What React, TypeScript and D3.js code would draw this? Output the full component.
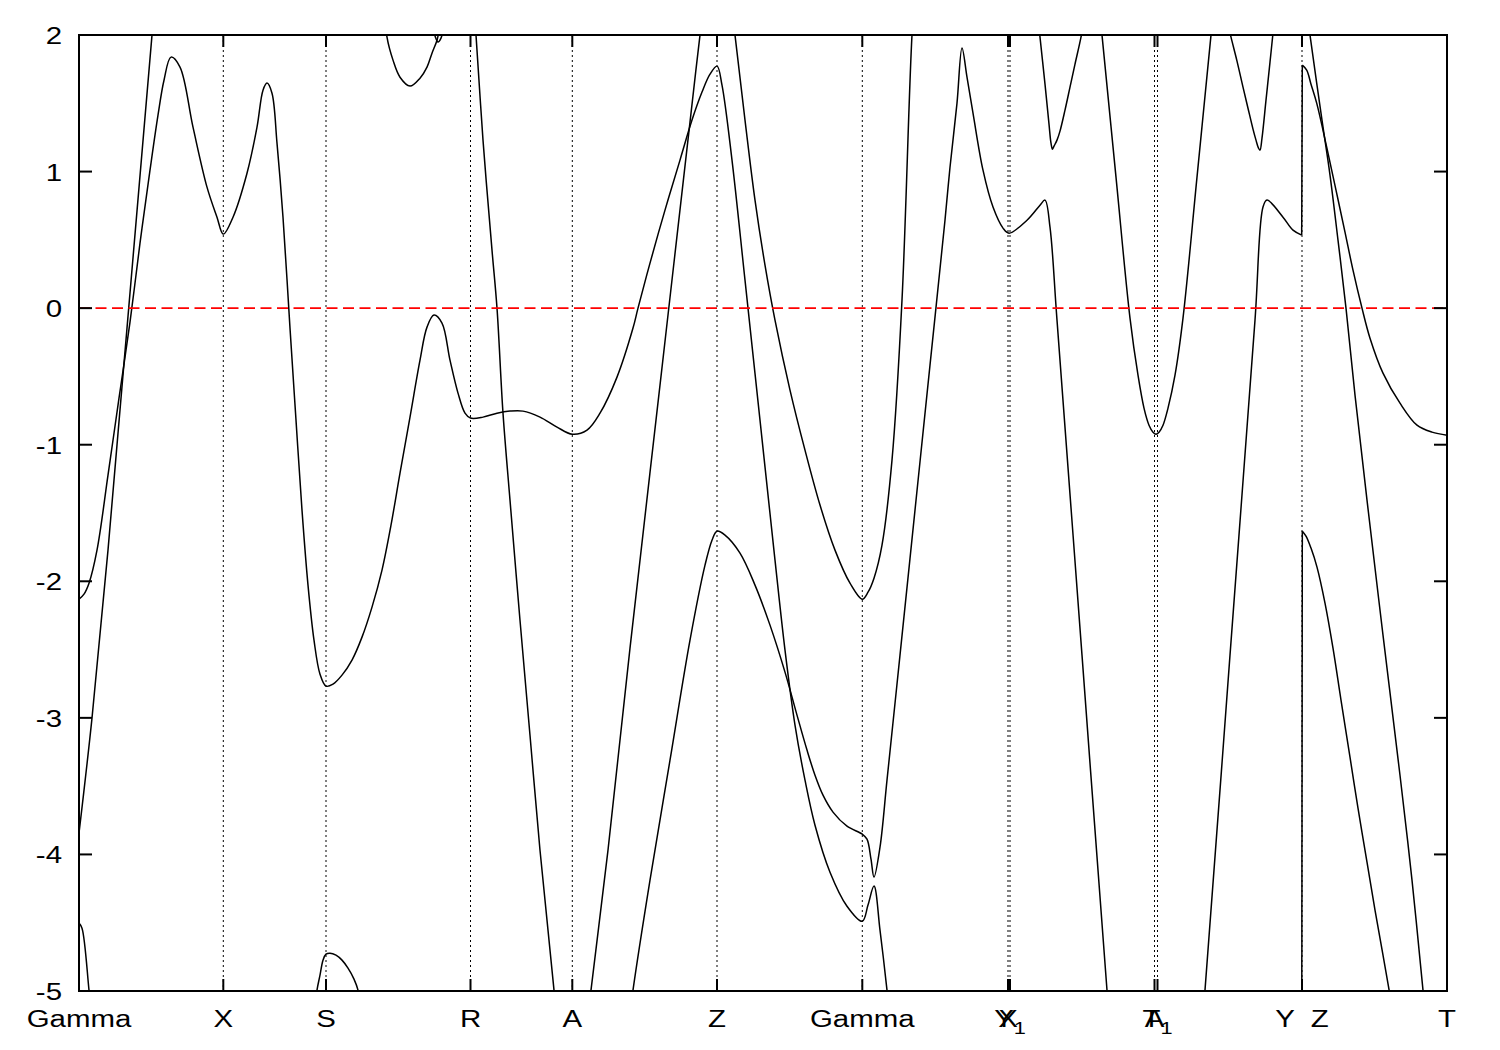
import React from 'react';
import * as d3 from 'd3';

// k-path ticks (k in path-length units)
const kTicks = [
  { k: 0, label: 'Gamma', sub: '' },
  { k: 1.443, label: 'X', sub: '' },
  { k: 2.47, label: 'S', sub: '' },
  { k: 3.915, label: 'R', sub: '' },
  { k: 4.933, label: 'A', sub: '' },
  { k: 6.38, label: 'Z', sub: '' },
  { k: 7.833, label: 'Gamma', sub: '' },
  { k: 9.29, label: 'X', sub: '' },
  { k: 9.31, label: 'Y', sub: '1' },
  { k: 10.755, label: 'A', sub: '' },
  { k: 10.785, label: 'T', sub: '1' },
  { k: 12.23, label: 'Y  Z', sub: '' },
  { k: 13.68, label: 'T', sub: '' },
];
const kMax = 13.68;
const eTicks = [-5, -4, -3, -2, -1, 0, 1, 2];
const eMin = -5;
const eMax = 2;
const fermi = 0;

// bands: [k, E(eV)]
const band1: [number, number][] = [
  [0, -2.131], [0.05, -2.094], [0.1, -2.014], [0.18, -1.772], [0.29, -1.223], [0.4, -0.659],
  [0.51, -0.103], [0.61, 0.476], [0.71, 1.01], [0.79, 1.413], [0.85, 1.669], [0.92, 1.838],
  [1.01, 1.765], [1.14, 1.325], [1.28, 0.886], [1.38, 0.666], [1.443, 0.542], [1.54, 0.666],
  [1.68, 0.988], [1.78, 1.325], [1.84, 1.596], [1.88, 1.648], [1.93, 1.574], [1.98, 1.208],
  [2.04, 0.666], [2.11, -0.146], [2.17, -0.82], [2.23, -1.479], [2.29, -2.028], [2.35, -2.431],
  [2.41, -2.68], [2.47, -2.768], [2.54, -2.753], [2.63, -2.687], [2.73, -2.577], [2.83, -2.409],
  [2.93, -2.189], [3.03, -1.918], [3.12, -1.589], [3.21, -1.208], [3.31, -0.798], [3.41, -0.381],
  [3.48, -0.139], [3.55, -0.051], [3.63, -0.11], [3.71, -0.381], [3.79, -0.622], [3.86, -0.769],
  [3.915, -0.805], [4.04, -0.798], [4.18, -0.769], [4.31, -0.754], [4.44, -0.754], [4.61, -0.798],
  [4.78, -0.871], [4.933, -0.923], [5.08, -0.893], [5.21, -0.769], [5.38, -0.505], [5.54, -0.146],
  [5.59, 0], [5.71, 0.33], [5.86, 0.718], [6.01, 1.084], [6.13, 1.377], [6.23, 1.582],
  [6.31, 1.713], [6.38, 1.772], [6.43, 1.633], [6.53, 1.084], [6.66, 0.205], [6.81, -0.82],
  [6.96, -1.845], [7.06, -2.504], [7.16, -3.053], [7.26, -3.456], [7.36, -3.786], [7.51, -4.13],
  [7.68, -4.379], [7.833, -4.489], [7.89, -4.371], [7.95, -4.232], [8.01, -4.554], [8.08, -4.994],
  [8.11, -5.213], [10.21, -7.26], [12.227, -5.8], [12.233, -1.633], [12.27, -1.669], [12.32, -1.757],
  [12.38, -1.896], [12.46, -2.16], [12.54, -2.49], [12.62, -2.87], [12.71, -3.288], [12.79, -3.661],
  [12.88, -4.057], [12.96, -4.408], [13.04, -4.737], [13.11, -5.031], [13.68, -7.0],
];

const band2: [number, number][] = [
  [0, -3.844], [0.13, -3.002], [0.29, -1.772], [0.48, -0.146], [0.73, 1.999], [0.77, 2.343],
  [1.71, 4.45], [3.05, 2.255], [3.08, 1.984], [3.14, 1.816], [3.21, 1.691], [3.31, 1.626],
  [3.41, 1.684], [3.48, 1.765], [3.53, 1.867], [3.58, 1.962], [3.61, 2.072], [3.76, 2.99],
  [3.93, 2.328], [3.97, 1.999], [4.04, 1.23], [4.13, 0.425], [4.18, 0], [4.24, -0.769],
  [4.31, -1.406], [4.41, -2.285], [4.51, -3.127], [4.61, -3.969], [4.75, -4.994], [4.93, -6.24],
  [5.12, -4.994], [5.29, -3.969], [5.51, -2.49], [5.81, -0.564], [6.11, 1.362], [6.21, 1.999],
  [6.38, 2.99], [6.56, 1.999], [6.66, 1.377], [6.76, 0.791], [6.86, 0.315], [6.96, -0.088],
  [7.11, -0.6], [7.26, -1.04], [7.41, -1.442], [7.56, -1.772], [7.71, -2.014], [7.833, -2.131],
  [7.89, -2.08], [7.95, -1.977], [8.03, -1.735], [8.13, -1.113], [8.23, 0.059], [8.33, 1.999],
  [8.37, 2.4], [9.0, 3.5], [9.57, 2.263], [9.61, 1.984], [9.66, 1.64], [9.7, 1.347],
  [9.72, 1.208], [9.735, 1.164], [9.75, 1.186], [9.78, 1.23], [9.81, 1.296], [9.86, 1.45],
  [9.91, 1.618], [9.96, 1.787], [10.02, 1.984], [10.06, 2.153], [10.12, 2.6], [10.19, 2.292],
  [10.23, 1.999], [10.37, 0.959], [10.51, -0.073], [10.59, -0.491], [10.65, -0.732], [10.7, -0.857],
  [10.74, -0.908], [10.77, -0.923], [10.8, -0.908], [10.84, -0.857], [10.89, -0.732], [10.96, -0.491],
  [11.04, -0.073], [11.18, 0.959], [11.32, 1.999], [11.36, 2.292], [11.42, 2.6], [11.48, 2.109],
  [11.52, 1.984], [11.58, 1.809], [11.64, 1.618], [11.69, 1.464], [11.74, 1.311], [11.77, 1.23],
  [11.795, 1.172], [11.81, 1.157], [11.83, 1.245], [11.87, 1.523], [11.91, 1.801], [11.94, 2.014],
  [11.97, 2.219], [12.1, 3.2], [12.28, 2.182], [12.31, 1.999], [12.43, 1.377], [12.51, 0.974],
  [12.59, 0.498], [12.67, 0], [12.76, -0.637], [12.88, -1.406], [13.04, -2.394], [13.21, -3.42],
  [13.33, -4.188], [13.44, -4.994], [13.46, -5.14], [13.68, -6.5],
];

const band3: [number, number][] = [
  [0, -4.503], [0.03, -4.54], [0.1, -4.994], [0.13, -5.213], [1.21, -7.26], [2.35, -5.213],
  [2.38, -4.994], [2.41, -4.884], [2.44, -4.774], [2.47, -4.73], [2.51, -4.723], [2.57, -4.738],
  [2.63, -4.774], [2.69, -4.833], [2.75, -4.913], [2.79, -4.994], [2.82, -5.14], [4.01, -7.26],
  [5.49, -5.287], [5.54, -4.994], [5.71, -4.188], [5.91, -3.31], [6.11, -2.431], [6.26, -1.882],
  [6.33, -1.699], [6.38, -1.633], [6.46, -1.662], [6.61, -1.794], [6.76, -2.028], [6.91, -2.321],
  [7.06, -2.665], [7.18, -2.98], [7.28, -3.236], [7.36, -3.42], [7.44, -3.566], [7.54, -3.69],
  [7.68, -3.793], [7.833, -3.852], [7.88, -3.888], [7.92, -4.035], [7.95, -4.166], [8.01, -3.947],
  [8.08, -3.456], [8.21, -2.541], [8.36, -1.479], [8.51, -0.417], [8.66, 0.644], [8.71, 1.032],
  [8.78, 1.501], [8.83, 1.904], [8.88, 1.691], [8.94, 1.428], [9.04, 1.01], [9.14, 0.74],
  [9.24, 0.586], [9.3, 0.549], [9.48, 0.644], [9.61, 0.754], [9.66, 0.791], [9.71, 0.593],
  [9.78, -0.088], [10.03, -2.541], [10.28, -4.994], [10.41, -6.165], [10.77, -7.0], [11.13, -6.165],
  [11.26, -4.994], [11.51, -2.541], [11.76, -0.088], [11.84, 0.74], [11.88, 0.791], [12.04, 0.666],
  [12.14, 0.571], [12.227, 0.535], [12.233, 1.779], [12.277, 1.743], [12.32, 1.64], [12.377, 1.501],
  [12.477, 1.179], [12.57, 0.864], [12.66, 0.557], [12.74, 0.278], [12.83, 0], [12.91, -0.22],
  [13.04, -0.476], [13.21, -0.696], [13.38, -0.857], [13.53, -0.908], [13.68, -0.93],
];

// small band just touching the top edge near R
const band4: [number, number][] = [
  [3.53, 2.072], [3.56, 1.992], [3.59, 1.948], [3.62, 1.977], [3.64, 2.036],
];

const bands = [band1, band2, band3, band4];

const W = 1500;
const H = 1050;
const L = 79;
const R = 1447;
const T = 35;
const B = 991;

const FONT = "'Liberation Sans', Arial, Helvetica, sans-serif";
const SX = 1.28;

type Pt = [number, number];

// split a band into smooth runs and straight jump segments; drop runs fully outside the window
function splitBand(band: Pt[]) {
  const out = (e: number) => e < eMin || e > eMax;
  const smooth: Pt[][] = [];
  const straight: Pt[][] = [];
  let cur: Pt[] = [];
  const flush = () => {
    if (cur.length > 1) smooth.push(cur);
    cur = [];
  };
  for (let i = 0; i < band.length - 1; i++) {
    const a = band[i];
    const b = band[i + 1];
    if (out(a[1]) && out(b[1])) {
      flush();
      continue;
    }
    if (b[0] - a[0] < 0.01) {
      flush();
      straight.push([a, b]);
      continue;
    }
    if (cur.length === 0) cur.push(a);
    cur.push(b);
  }
  flush();
  return { smooth, straight };
}

export default function App() {
  const x = d3.scaleLinear().domain([0, kMax]).range([L, R]);
  const y = d3.scaleLinear().domain([eMin, eMax]).range([B, T]);
  const smoothLine = d3
    .line<Pt>()
    .x((d) => x(d[0]))
    .y((d) => y(d[1]))
    .curve(d3.curveCatmullRom.alpha(0.5));
  const straightLine = d3
    .line<Pt>()
    .x((d) => x(d[0]))
    .y((d) => y(d[1]));

  const paths: { d: string; key: string }[] = [];
  bands.forEach((b, bi) => {
    const { smooth, straight } = splitBand(b);
    smooth.forEach((s, si) => paths.push({ d: smoothLine(s) || '', key: `s${bi}-${si}` }));
    straight.forEach((s, si) => paths.push({ d: straightLine(s) || '', key: `j${bi}-${si}` }));
  });

  return (
    <svg
      width={W}
      height={H}
      style={{ position: 'absolute', left: 0, top: 0, background: '#fff' }}
      fontFamily={FONT}
    >
      <rect x={0} y={0} width={W} height={H} fill="#fff" />
      <defs>
        <clipPath id="plotclip">
          <rect x={L} y={T} width={R - L} height={B - T} />
        </clipPath>
      </defs>

      {/* high-symmetry vertical dotted lines */}
      {kTicks
        .filter((t) => t.k > 0 && t.k < kMax)
        .map((t, i) => (
          <line
            key={'v' + i}
            x1={x(t.k)}
            x2={x(t.k)}
            y1={T}
            y2={B}
            stroke="#000"
            strokeWidth={1}
            strokeDasharray="2,3"
          />
        ))}

      <g clipPath="url(#plotclip)">
        {paths.map((p) => (
          <path key={p.key} d={p.d} fill="none" stroke="#000" strokeWidth={1.5} strokeLinejoin="round" />
        ))}
      </g>

      {/* Fermi level */}
      <line
        x1={L}
        x2={R}
        y1={y(fermi)}
        y2={y(fermi)}
        stroke="#ff0000"
        strokeWidth={1.6}
        strokeDasharray="11,5.5"
      />

      {/* frame */}
      <rect x={L} y={T} width={R - L} height={B - T} fill="none" stroke="#000" strokeWidth={2} />

      {/* y ticks */}
      {eTicks.map((e) => (
        <g key={'y' + e}>
          <line x1={L} x2={L + 13} y1={y(e)} y2={y(e)} stroke="#000" strokeWidth={2} />
          <line x1={R} x2={R - 13} y1={y(e)} y2={y(e)} stroke="#000" strokeWidth={2} />
          <text
            transform={`translate(62,${y(e) + 9}) scale(${SX},1)`}
            textAnchor="end"
            fontSize={23}
            fill="#000"
          >
            {e}
          </text>
        </g>
      ))}

      {/* x ticks */}
      {kTicks.map((t, i) => (
        <g key={'x' + i}>
          <line x1={x(t.k)} x2={x(t.k)} y1={B} y2={B - 12} stroke="#000" strokeWidth={2} />
          <line x1={x(t.k)} x2={x(t.k)} y1={T} y2={T + 12} stroke="#000" strokeWidth={2} />
          <text
            transform={`translate(${x(t.k)},1027) scale(${SX},1)`}
            textAnchor="middle"
            fontSize={23}
            fill="#000"
            style={{ whiteSpace: 'pre' }}
            xmlSpace="preserve"
          >
            <tspan>{t.label}</tspan>
            {t.sub ? (
              <tspan fontSize={17} dy={7}>
                {t.sub}
              </tspan>
            ) : null}
          </text>
        </g>
      ))}
    </svg>
  );
}
